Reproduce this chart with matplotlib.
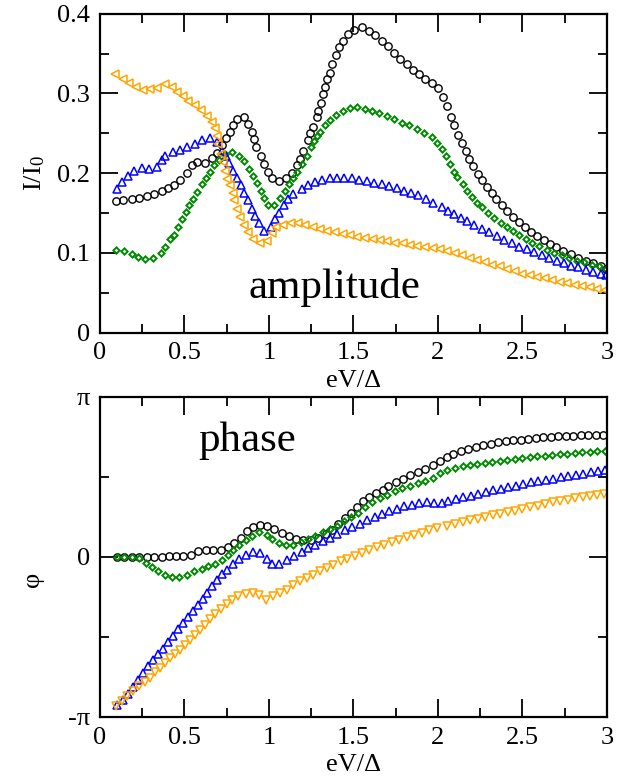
import numpy as np
import matplotlib
matplotlib.use("Agg")
import matplotlib.pyplot as plt

plt.rcParams['font.family'] = ['Liberation Serif', 'DejaVu Serif']
plt.rcParams['mathtext.fontset'] = 'custom'
plt.rcParams['mathtext.rm'] = 'Liberation Serif'
plt.rcParams['mathtext.it'] = 'Liberation Serif:italic'

# Amplitude I/I0 versus eV/Delta
amp_black_x = [0.095, 0.138, 0.187, 0.233, 0.276, 0.320, 0.365, 0.404, 0.438, 0.473,
               0.513, 0.542, 0.576, 0.621, 0.661, 0.694, 0.720, 0.746, 0.769, 0.789,
               0.809, 0.852, 0.877, 0.897, 0.911, 0.923, 0.951, 0.970, 0.996, 1.016,
               1.061, 1.100, 1.134, 1.164, 1.183, 1.203, 1.229, 1.243, 1.258, 1.282,
               1.292, 1.306, 1.318, 1.331, 1.345, 1.361, 1.375, 1.395, 1.414, 1.440,
               1.470, 1.503, 1.548, 1.592, 1.627, 1.667, 1.706, 1.740, 1.775, 1.815,
               1.850, 1.888, 1.923, 1.963, 2.002, 2.030, 2.051, 2.077, 2.097, 2.120,
               2.140, 2.164, 2.186, 2.205, 2.239, 2.259, 2.288, 2.318, 2.343, 2.377,
               2.406, 2.442, 2.479, 2.515, 2.550, 2.588, 2.627, 2.663, 2.698, 2.742,
               2.787, 2.830, 2.874, 2.919, 2.963, 2.995]
amp_black_y = [0.165, 0.166, 0.167, 0.169, 0.171, 0.174, 0.178, 0.182, 0.185, 0.192,
               0.200, 0.210, 0.214, 0.213, 0.219, 0.225, 0.235, 0.244, 0.251, 0.260,
               0.268, 0.270, 0.262, 0.251, 0.243, 0.233, 0.222, 0.212, 0.201, 0.194,
               0.190, 0.194, 0.200, 0.210, 0.218, 0.228, 0.242, 0.250, 0.258, 0.270,
               0.278, 0.288, 0.299, 0.308, 0.318, 0.326, 0.337, 0.348, 0.358, 0.366,
               0.374, 0.380, 0.383, 0.378, 0.373, 0.366, 0.360, 0.351, 0.343, 0.337,
               0.329, 0.324, 0.318, 0.313, 0.307, 0.296, 0.284, 0.271, 0.260, 0.248,
               0.238, 0.228, 0.218, 0.209, 0.199, 0.192, 0.183, 0.175, 0.167, 0.160,
               0.153, 0.145, 0.139, 0.132, 0.126, 0.121, 0.116, 0.111, 0.107, 0.103,
               0.098, 0.093, 0.090, 0.087, 0.083, 0.080]

amp_green_x = [0.095, 0.142, 0.187, 0.227, 0.266, 0.312, 0.359, 0.385, 0.414, 0.438,
               0.464, 0.483, 0.507, 0.529, 0.548, 0.576, 0.602, 0.627, 0.651, 0.677,
               0.704, 0.740, 0.779, 0.824, 0.852, 0.882, 0.907, 0.927, 0.951, 0.970,
               0.996, 1.030, 1.065, 1.095, 1.118, 1.144, 1.168, 1.193, 1.223, 1.247,
               1.266, 1.284, 1.302, 1.331, 1.361, 1.397, 1.436, 1.479, 1.523, 1.568,
               1.608, 1.653, 1.696, 1.740, 1.785, 1.830, 1.874, 1.917, 1.963, 1.995,
               2.022, 2.047, 2.071, 2.095, 2.115, 2.146, 2.174, 2.203, 2.233, 2.262,
               2.298, 2.334, 2.371, 2.406, 2.442, 2.479, 2.521, 2.558, 2.598, 2.643,
               2.687, 2.732, 2.775, 2.821, 2.866, 2.909, 2.955, 2.995]
amp_green_y = [0.104, 0.103, 0.099, 0.095, 0.092, 0.094, 0.100, 0.107, 0.117, 0.123,
               0.133, 0.142, 0.151, 0.160, 0.168, 0.176, 0.187, 0.194, 0.202, 0.210,
               0.217, 0.224, 0.226, 0.222, 0.215, 0.205, 0.197, 0.188, 0.178, 0.169,
               0.160, 0.160, 0.169, 0.178, 0.186, 0.194, 0.201, 0.211, 0.221, 0.233,
               0.240, 0.246, 0.252, 0.260, 0.267, 0.273, 0.278, 0.282, 0.283, 0.281,
               0.278, 0.275, 0.272, 0.268, 0.263, 0.260, 0.255, 0.250, 0.245, 0.238,
               0.230, 0.221, 0.211, 0.202, 0.195, 0.186, 0.177, 0.170, 0.163, 0.157,
               0.150, 0.144, 0.138, 0.132, 0.127, 0.122, 0.117, 0.112, 0.109, 0.104,
               0.100, 0.097, 0.093, 0.090, 0.088, 0.085, 0.083, 0.080]

amp_blue_x = [0.099, 0.128, 0.164, 0.203, 0.247, 0.290, 0.335, 0.365, 0.385, 0.430,
              0.473, 0.517, 0.562, 0.606, 0.651, 0.690, 0.720, 0.746, 0.765, 0.789,
              0.809, 0.832, 0.852, 0.874, 0.897, 0.917, 0.943, 0.970, 1.010, 1.036,
              1.061, 1.090, 1.115, 1.145, 1.193, 1.233, 1.272, 1.316, 1.361, 1.404,
              1.446, 1.489, 1.533, 1.578, 1.621, 1.667, 1.710, 1.755, 1.801, 1.840,
              1.884, 1.927, 1.972, 2.022, 2.061, 2.097, 2.134, 2.174, 2.215, 2.259,
              2.304, 2.347, 2.393, 2.436, 2.479, 2.525, 2.568, 2.614, 2.657, 2.702,
              2.746, 2.787, 2.831, 2.874, 2.919, 2.963, 2.995]
amp_blue_y = [0.180, 0.189, 0.196, 0.203, 0.207, 0.205, 0.208, 0.216, 0.222, 0.227,
              0.229, 0.233, 0.237, 0.241, 0.244, 0.239, 0.228, 0.221, 0.213, 0.203,
              0.194, 0.185, 0.175, 0.166, 0.155, 0.146, 0.137, 0.128, 0.133, 0.142,
              0.150, 0.160, 0.167, 0.174, 0.180, 0.185, 0.189, 0.192, 0.194, 0.194,
              0.194, 0.194, 0.192, 0.190, 0.188, 0.186, 0.184, 0.181, 0.178, 0.175,
              0.172, 0.168, 0.163, 0.158, 0.153, 0.149, 0.144, 0.140, 0.135, 0.130,
              0.126, 0.121, 0.116, 0.112, 0.108, 0.105, 0.101, 0.097, 0.093, 0.090,
              0.087, 0.084, 0.082, 0.079, 0.076, 0.074, 0.072]

amp_orange_x = [0.089, 0.134, 0.174, 0.211, 0.252, 0.296, 0.339, 0.385, 0.428, 0.458,
                0.489, 0.523, 0.562, 0.598, 0.635, 0.661, 0.680, 0.690, 0.700, 0.714,
                0.726, 0.740, 0.753, 0.769, 0.785, 0.795, 0.809, 0.828, 0.852, 0.878,
                0.907, 0.947, 0.986, 1.016, 1.041, 1.085, 1.128, 1.170, 1.213, 1.258,
                1.302, 1.345, 1.390, 1.436, 1.479, 1.523, 1.568, 1.613, 1.657, 1.700,
                1.746, 1.791, 1.834, 1.878, 1.923, 1.969, 2.012, 2.055, 2.100, 2.144,
                2.190, 2.233, 2.278, 2.322, 2.367, 2.410, 2.456, 2.500, 2.545, 2.588,
                2.633, 2.677, 2.722, 2.765, 2.810, 2.854, 2.900, 2.943, 2.990]
amp_orange_y = [0.324, 0.318, 0.313, 0.308, 0.304, 0.305, 0.307, 0.312, 0.308, 0.302,
                0.297, 0.291, 0.285, 0.279, 0.272, 0.264, 0.257, 0.247, 0.237, 0.224,
                0.214, 0.203, 0.193, 0.185, 0.175, 0.166, 0.155, 0.145, 0.135, 0.126,
                0.118, 0.112, 0.115, 0.125, 0.133, 0.135, 0.137, 0.137, 0.135, 0.133,
                0.130, 0.128, 0.126, 0.124, 0.122, 0.120, 0.119, 0.117, 0.116, 0.115,
                0.113, 0.112, 0.110, 0.109, 0.108, 0.106, 0.105, 0.102, 0.100, 0.097,
                0.094, 0.091, 0.088, 0.085, 0.083, 0.080, 0.077, 0.074, 0.072, 0.070,
                0.068, 0.066, 0.064, 0.062, 0.060, 0.058, 0.057, 0.055, 0.053]

# Phase in units of pi
ph_black_x = [0.099, 0.142, 0.187, 0.233, 0.276, 0.320, 0.365, 0.408, 0.450, 0.493,
              0.536, 0.582, 0.627, 0.671, 0.714, 0.755, 0.795, 0.832, 0.868, 0.907,
              0.947, 0.986, 1.030, 1.075, 1.117, 1.160, 1.203, 1.247, 1.292, 1.337,
              1.375, 1.410, 1.450, 1.485, 1.523, 1.558, 1.594, 1.633, 1.673, 1.706,
              1.750, 1.791, 1.834, 1.880, 1.923, 1.969, 2.012, 2.051, 2.091, 2.134,
              2.180, 2.225, 2.268, 2.312, 2.357, 2.400, 2.446, 2.489, 2.535, 2.578,
              2.623, 2.667, 2.712, 2.758, 2.801, 2.844, 2.890, 2.933, 2.978]
ph_black_y = [0.000, 0.000, 0.000, 0.000, 0.000, 0.000, 0.000, 0.004, 0.008, 0.008,
              0.015, 0.035, 0.042, 0.042, 0.046, 0.063, 0.088, 0.119, 0.160, 0.188,
              0.202, 0.196, 0.175, 0.150, 0.129, 0.113, 0.104, 0.108, 0.119, 0.143,
              0.171, 0.208, 0.244, 0.275, 0.310, 0.348, 0.375, 0.400, 0.421, 0.442,
              0.469, 0.490, 0.510, 0.531, 0.552, 0.573, 0.598, 0.625, 0.644, 0.660,
              0.675, 0.688, 0.698, 0.708, 0.717, 0.723, 0.729, 0.733, 0.740, 0.744,
              0.748, 0.750, 0.754, 0.756, 0.758, 0.760, 0.763, 0.763, 0.765]

ph_green_x = [0.099, 0.142, 0.187, 0.233, 0.270, 0.306, 0.345, 0.385, 0.424, 0.467,
              0.513, 0.556, 0.602, 0.641, 0.680, 0.720, 0.755, 0.789, 0.824, 0.862,
              0.897, 0.943, 0.986, 1.016, 1.059, 1.100, 1.144, 1.187, 1.229, 1.272,
              1.318, 1.361, 1.400, 1.444, 1.483, 1.525, 1.568, 1.611, 1.657, 1.700,
              1.746, 1.789, 1.834, 1.880, 1.923, 1.969, 2.012, 2.055, 2.100, 2.146,
              2.190, 2.233, 2.278, 2.322, 2.367, 2.410, 2.456, 2.500, 2.545, 2.588,
              2.633, 2.677, 2.722, 2.765, 2.810, 2.854, 2.900, 2.943, 2.988]
ph_green_y = [0.000, 0.000, 0.000, -0.008, -0.040, -0.063, -0.088, -0.113, -0.125, -0.125,
              -0.110, -0.090, -0.075, -0.058, -0.042, -0.017, 0.015, 0.045, 0.075, 0.105,
              0.133, 0.154, 0.140, 0.115, 0.088, 0.075, 0.077, 0.092, 0.113, 0.133,
              0.154, 0.175, 0.196, 0.227, 0.250, 0.275, 0.310, 0.345, 0.369, 0.390,
              0.410, 0.431, 0.446, 0.463, 0.477, 0.494, 0.527, 0.546, 0.556, 0.567,
              0.573, 0.581, 0.588, 0.594, 0.602, 0.608, 0.615, 0.619, 0.623, 0.629,
              0.633, 0.640, 0.644, 0.646, 0.650, 0.654, 0.658, 0.660, 0.665]

ph_blue_x = [0.099, 0.134, 0.168, 0.197, 0.227, 0.256, 0.286, 0.316, 0.345, 0.375,
             0.404, 0.430, 0.460, 0.489, 0.519, 0.548, 0.578, 0.607, 0.635, 0.665,
             0.694, 0.720, 0.750, 0.785, 0.822, 0.862, 0.907, 0.947, 0.986, 1.016,
             1.061, 1.105, 1.148, 1.193, 1.233, 1.272, 1.318, 1.361, 1.404, 1.450,
             1.493, 1.539, 1.582, 1.627, 1.671, 1.712, 1.755, 1.801, 1.844, 1.888,
             1.933, 1.976, 2.022, 2.061, 2.107, 2.150, 2.193, 2.239, 2.282, 2.328,
             2.371, 2.416, 2.462, 2.505, 2.548, 2.594, 2.639, 2.683, 2.726, 2.771,
             2.815, 2.860, 2.903, 2.949, 2.988]
ph_blue_y = [-0.923, -0.892, -0.854, -0.813, -0.771, -0.725, -0.679, -0.642, -0.606, -0.575,
             -0.533, -0.492, -0.450, -0.413, -0.375, -0.335, -0.298, -0.263, -0.225, -0.183,
             -0.146, -0.106, -0.079, -0.042, -0.013, 0.015, 0.029, 0.025, -0.010, -0.042,
             -0.042, -0.021, 0.004, 0.029, 0.054, 0.073, 0.098, 0.119, 0.144, 0.167,
             0.188, 0.208, 0.229, 0.250, 0.269, 0.285, 0.302, 0.317, 0.327, 0.338,
             0.345, 0.340, 0.338, 0.350, 0.362, 0.373, 0.383, 0.396, 0.406, 0.417,
             0.427, 0.435, 0.446, 0.456, 0.467, 0.473, 0.483, 0.490, 0.498, 0.504,
             0.515, 0.521, 0.529, 0.535, 0.546]

ph_orange_x = [0.095, 0.128, 0.162, 0.197, 0.233, 0.266, 0.296, 0.325, 0.355, 0.385,
               0.414, 0.444, 0.473, 0.503, 0.533, 0.562, 0.592, 0.621, 0.651, 0.680,
               0.714, 0.750, 0.783, 0.818, 0.862, 0.907, 0.943, 0.982, 1.025, 1.065,
               1.105, 1.144, 1.183, 1.223, 1.262, 1.302, 1.341, 1.381, 1.424, 1.464,
               1.509, 1.548, 1.594, 1.637, 1.680, 1.726, 1.771, 1.815, 1.858, 1.904,
               1.949, 1.992, 2.055, 2.100, 2.146, 2.190, 2.235, 2.278, 2.324, 2.367,
               2.412, 2.456, 2.500, 2.545, 2.590, 2.633, 2.679, 2.722, 2.767, 2.810,
               2.856, 2.900, 2.943, 2.982]
ph_orange_y = [-0.929, -0.902, -0.871, -0.840, -0.808, -0.781, -0.756, -0.721, -0.694, -0.663,
               -0.631, -0.604, -0.579, -0.548, -0.517, -0.485, -0.454, -0.423, -0.388, -0.354,
               -0.325, -0.292, -0.267, -0.246, -0.229, -0.225, -0.240, -0.267, -0.246, -0.225,
               -0.204, -0.177, -0.152, -0.131, -0.110, -0.090, -0.069, -0.048, -0.027, -0.010,
               0.006, 0.023, 0.045, 0.060, 0.077, 0.092, 0.106, 0.122, 0.136, 0.152,
               0.167, 0.181, 0.192, 0.204, 0.217, 0.229, 0.240, 0.250, 0.260, 0.271,
               0.281, 0.290, 0.300, 0.310, 0.321, 0.331, 0.342, 0.350, 0.358, 0.367,
               0.375, 0.381, 0.388, 0.396]

BLACK = "black"
GREEN = "#008b00"
BLUE = "#0000ff"
ORANGE = "#ffa500"


def style_axes(ax):
    for side in ax.spines.values():
        side.set_linewidth(1.6)
    ax.tick_params(which="both", direction="in", top=True, right=True,
                   width=1.3, labelsize=19)
    ax.tick_params(which="major", length=13, pad=7)
    ax.tick_params(which="minor", length=6.5)
    ax.set_xlim(0, 3)
    ax.set_xticks([0, 0.5, 1, 1.5, 2, 2.5, 3])
    ax.set_xticklabels(["0", "0.5", "1", "1.5", "2", "2.5", "3"])
    ax.set_xticks(np.arange(0.25, 3, 0.5), minor=True)
    ax.set_xlabel("eV/Δ", fontsize=19, labelpad=4)


def draw(ax, x, y, marker, color, ms, mew, scale=1.0):
    ax.plot(np.array(x), np.array(y) * scale, linestyle="none", marker=marker,
            markersize=ms, markerfacecolor="none", markeredgecolor=color,
            markeredgewidth=mew)


fig = plt.figure(figsize=(6.17, 7.84), dpi=100)

# Top panel: amplitude
ax1 = fig.add_axes([0.162, 0.5757, 0.8217, 0.4069])
draw(ax1, amp_black_x, amp_black_y, "o", BLACK, 5.3, 1.0)
draw(ax1, amp_green_x, amp_green_y, "D", GREEN, 3.2, 1.4)
draw(ax1, amp_blue_x, amp_blue_y, "^", BLUE, 5.4, 1.1)
draw(ax1, amp_orange_x, amp_orange_y, "<", ORANGE, 5.4, 1.1)
style_axes(ax1)
ax1.set_ylim(0, 0.4)
ax1.set_yticks([0, 0.1, 0.2, 0.3, 0.4])
ax1.set_yticklabels(["0", "0.1", "0.2", "0.3", "0.4"])
ax1.set_yticks([0.05, 0.15, 0.25, 0.35], minor=True)
ax1.set_ylabel(r"I/I$_0$", fontsize=19)
ax1.yaxis.set_label_coords(-0.105, 0.5)
ax1.text(1.39, 0.043, "amplitude", fontsize=31, ha="center", va="baseline")

# Bottom panel: phase
ax2 = fig.add_axes([0.162, 0.0855, 0.8217, 0.4082])
draw(ax2, ph_black_x, ph_black_y, "o", BLACK, 5.3, 1.0, np.pi)
draw(ax2, ph_green_x, ph_green_y, "D", GREEN, 3.2, 1.4, np.pi)
draw(ax2, ph_blue_x, ph_blue_y, "^", BLUE, 5.4, 1.1, np.pi)
draw(ax2, ph_orange_x, ph_orange_y, "v", ORANGE, 5.4, 1.1, np.pi)
style_axes(ax2)
ax2.set_ylim(-np.pi, np.pi)
ax2.set_yticks([-np.pi, 0, np.pi])
ax2.set_yticklabels(["-π", "0", "π"])
ax2.set_yticks([-np.pi / 2, np.pi / 2], minor=True)
ax2.set_ylabel("φ", fontsize=19, rotation=90)
ax2.yaxis.set_label_coords(-0.11, 0.43)
ax2.text(0.873, 0.664 * np.pi, "phase", fontsize=31, ha="center", va="baseline")

fig.savefig("out.png", dpi=100)
